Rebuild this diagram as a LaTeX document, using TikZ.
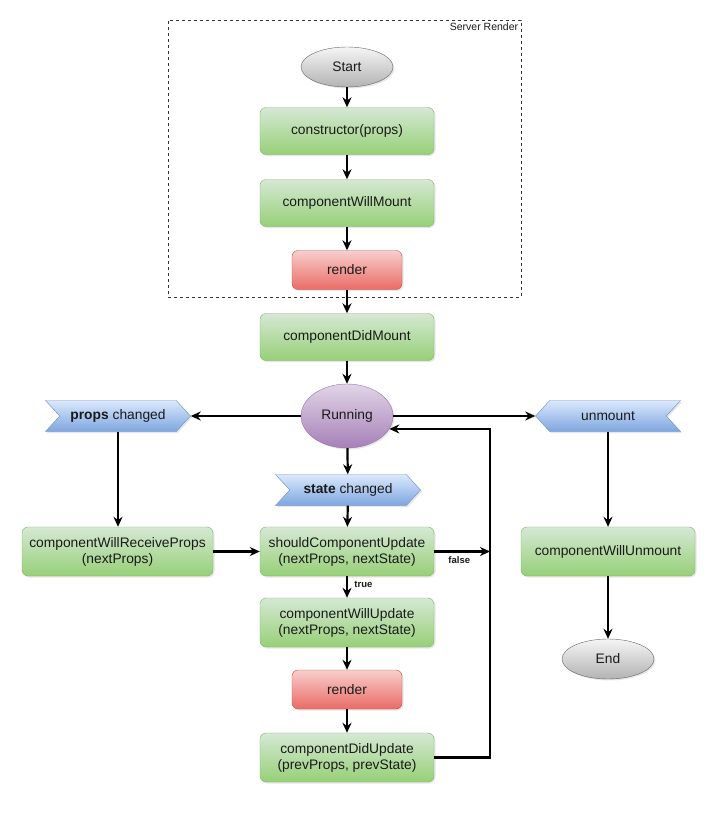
\documentclass[tikz,border=0pt]{standalone}
\usepackage{fontspec}
\setmainfont{Liberation Sans}
\usetikzlibrary{arrows.meta,shapes.geometric,shapes.symbols,shadows}
\definecolor{gTop}{HTML}{D5E8D4}\definecolor{gBot}{HTML}{97D077}\definecolor{gLine}{HTML}{82B366}
\definecolor{rTop}{HTML}{F8CECC}\definecolor{rBot}{HTML}{EA6B66}\definecolor{rLine}{HTML}{B85450}
\definecolor{bTop}{HTML}{DAE8FC}\definecolor{bBot}{HTML}{7EA6E0}\definecolor{bLine}{HTML}{6C8EBF}
\definecolor{eTop}{HTML}{F5F5F5}\definecolor{eBot}{HTML}{B3B3B3}\definecolor{eLine}{HTML}{666666}
\definecolor{pTop}{HTML}{E1D5E7}\definecolor{pBot}{HTML}{A680B8}\definecolor{pLine}{HTML}{9673A6}
\definecolor{txt}{HTML}{1A1A1A}
\begin{document}
\begin{tikzpicture}[x=1pt,y=-1pt,
  every node/.style={font=\fontsize{13.8}{16}\selectfont, text=txt, align=center},
  shd/.style={drop shadow={opacity=0.2,shadow xshift=1.5pt,shadow yshift=-1.5pt}},
  gbox/.style={rectangle, rounded corners=6pt, draw=gLine, top color=gTop, bottom color=gBot, minimum width=174pt, minimum height=47pt, inner sep=2pt, shd},
  rbox/.style={rectangle, rounded corners=6pt, draw=rLine, top color=rTop, bottom color=rBot, minimum width=110pt, minimum height=39pt, shd},
  ebox/.style={ellipse, draw=eLine, top color=eTop, bottom color=eBot, minimum width=92pt, minimum height=40pt, inner sep=0pt, shd},
  pbox/.style={ellipse, draw=pLine, top color=pTop, bottom color=pBot, minimum width=92pt, minimum height=64pt, inner sep=0pt, shd},
  sigR/.style={signal, signal to=east, signal from=west, signal pointer angle=95, draw=bLine, top color=bTop, bottom color=bBot, minimum width=145pt, minimum height=31pt, inner sep=1pt, shd},
  sigL/.style={signal, signal to=west, signal from=east, signal pointer angle=95, draw=bLine, top color=bTop, bottom color=bBot, minimum width=145pt, minimum height=31pt, inner sep=1pt, shd},
  arr/.style={-{Stealth[length=10pt,width=9pt]}, line width=2.2pt, black},
  lbl/.style={font=\bfseries\fontsize{9.5}{11}\selectfont}
]
\useasboundingbox (0,0) rectangle (727,819);
% server render frame
\node[draw=black!80, dashed, line width=0.7pt, minimum width=353pt, minimum height=277pt, inner sep=0pt] (frame) at (344.5,158.5) {};
\node[anchor=north east, font=\fontsize{10.5}{12}\selectfont, inner sep=3pt] (srl) at (frame.north east) {Server Render};

\node[ebox] (start) at (347,67) {Start};
\node[gbox] (ctor) at (347,131) {constructor(props)};
\node[gbox] (cwm) at (347,203) {componentWillMount};
\node[rbox] (r1) at (347,270) {render};
\node[gbox] (cdm) at (347,337) {componentDidMount};
\node[pbox] (run) at (347,416) {Running};
\node[sigR] (props) at (118,416) {\textbf{props} changed};
\node[sigL] (unm) at (608,416) {unmount};
\node[sigR] (state) at (348,490) {\textbf{state} changed};
\node[gbox, minimum width=191pt, minimum height=49pt] (cwrp) at (117.5,551.5) {componentWillReceiveProps\\(nextProps)};
\node[gbox, minimum height=49pt] (scu) at (347,551.5) {shouldComponentUpdate\\(nextProps, nextState)};
\node[gbox, minimum height=49pt] (cwun) at (608,551.5) {componentWillUnmount};
\node[ebox] (end) at (608,659) {End};
\node[gbox, minimum height=49pt] (cwu) at (347,622.5) {componentWillUpdate\\(nextProps, nextState)};
\node[rbox] (r2) at (347,689.5) {render};
\node[gbox, minimum height=49pt] (cdu) at (347,757.5) {componentDidUpdate\\(prevProps, prevState)};

% connectors
\draw[arr] (start) -- (ctor);
\draw[arr] (ctor) -- (cwm);
\draw[arr] (cwm) -- (r1);
\draw[arr] (r1) -- (cdm);
\draw[arr] (cdm) -- (run);
\draw[arr] (run) -- (state);
\draw[arr] (state) -- (scu);
\draw[arr] (run.west) -- (props.east);
\draw[arr] (run.east) -- (unm.west);
\draw[arr] (props.south) -- (props.south |- cwrp.north);
\draw[arr] (unm.south) -- (unm.south |- cwun.north);
\draw[arr] (cwrp) -- (scu);
\draw[arr] (cwun) -- (end);
\draw[arr] (scu) -- node[lbl, right=3pt, pos=0.4] (tl) {true} (cwu);
\draw[arr] (cwu) -- (r2);
\draw[arr] (r2) -- (cdu);
\coordinate (vx) at (490,0);
\coordinate (rp) at (run.-17);
\coordinate (fx) at (vx |- scu.east);
\draw[arr] (scu.east) -- node[lbl, below=1pt, pos=0.45] (fl) {false} (fx);
\draw[arr] (cdu.east) -| (vx |- rp) -- (rp);
\end{tikzpicture}
\end{document}
